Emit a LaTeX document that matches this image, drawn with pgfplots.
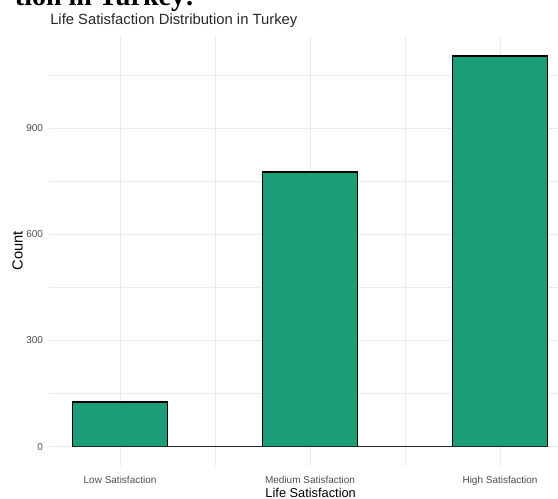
\documentclass[border=0pt]{standalone}
\usepackage{pgfplots}
\pgfplotsset{compat=1.18}
\usepackage{fontspec}
\setmainfont{Liberation Sans}
\newfontfamily\headserif{Liberation Serif}
\definecolor{barfill}{HTML}{1B9E77}
\definecolor{gridc}{HTML}{EBEBEB}
\definecolor{tickc}{HTML}{4D4D4D}
\begin{document}
\begin{tikzpicture}
\begin{axis}[
  at={(36.75pt,24.6pt)}, anchor=south west,
  scale only axis, width=381.75pt, height=322.65pt,
  xmin=0.626, xmax=3.305, ymin=-55.2, ymax=1161,
  axis line style={draw=none}, tick style={draw=none},
  xtick={1,2,3}, xticklabels={Low Satisfaction, Medium Satisfaction, High Satisfaction},
  minor xtick={1.5,2.5},
  ytick={0,300,600,900}, minor ytick={150,450,750,1050},
  grid=both,
  major grid style={color=gridc, line width=0.75pt},
  minor grid style={color=gridc, line width=0.4pt},
  /pgf/number format/assume math mode=true,
  yticklabel style={anchor=east, inner sep=0pt, xshift=-4.3pt, color=tickc, font=\fontsize{7.5pt}{9pt}\selectfont},
  xticklabel style={anchor=base, inner sep=0pt, yshift=-8.6pt, color=tickc, font=\fontsize{7.5pt}{9pt}\selectfont},
  ybar, bar width=0.5, bar shift=0pt,
  clip=false,
]
\addplot[fill=barfill, draw=black, line width=1.1pt] coordinates {(1,126) (2,776) (3,1104)};
\addplot[sharp plot, draw=black!85, line width=1.1pt, forget plot] coordinates {(0.75,0) (3.25,0)};
\end{axis}
\node[anchor=base, font=\fontsize{9.6pt}{11pt}\selectfont] at (233pt,0.9pt) {Life Satisfaction};
\node[anchor=base, rotate=90, font=\fontsize{11pt}{13pt}\selectfont] at (17pt,186pt) {Count};
\node[anchor=base west, inner sep=0pt, font=\fontsize{11.1pt}{13pt}\selectfont, color=black!85] at (37.5pt,355.5pt) {Life Satisfaction Distribution in Turkey};
\node[anchor=base east, inner sep=0pt, font=\headserif\bfseries\fontsize{21pt}{24pt}\selectfont] at (146pt,370pt) {tion in Turkey:};
\pgfresetboundingbox
\useasboundingbox (0,0) rectangle (418.5pt,374.25pt);
\end{tikzpicture}
\end{document}
